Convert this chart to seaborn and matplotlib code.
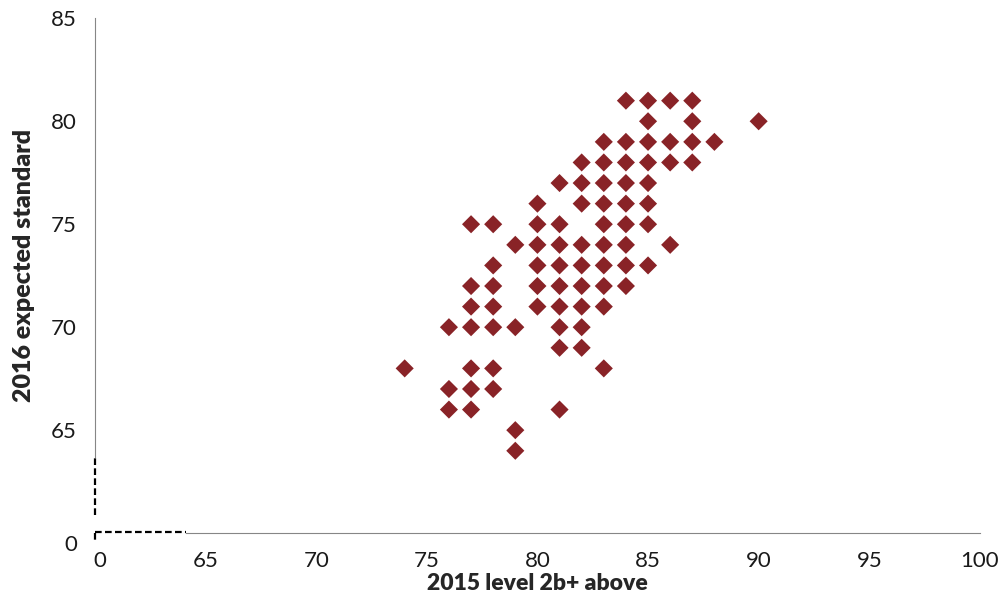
import numpy as np
import pandas as pd
import seaborn as sns
import matplotlib
matplotlib.use("Agg")
import matplotlib.pyplot as plt
import matplotlib.transforms as mtransforms

# data: one list of x values per y row
rows = {
    81: [84, 85, 86, 87],
    80: [85, 87, 90],
    79: [83, 84, 85, 86, 87, 88],
    78: [82, 83, 84, 85, 86, 87],
    77: [81, 82, 83, 84, 85],
    76: [80, 82, 83, 84, 85],
    75: [77, 78, 80, 81, 83, 84, 85],
    74: [79, 80, 81, 82, 83, 84, 86],
    73: [78, 80, 81, 82, 83, 84, 85],
    72: [77, 78, 80, 81, 82, 83, 84],
    71: [77, 78, 80, 81, 82, 83],
    70: [76, 77, 78, 79, 81, 82],
    69: [81, 82],
    68: [74, 77, 78, 83],
    67: [76, 77, 78],
    66: [76, 77, 81],
    65: [79],
    64: [79],
}
x_ticks = [60, 65, 70, 75, 80, 85, 90, 95, 100]
x_tick_labels = ["0", "65", "70", "75", "80", "85", "90", "95", "100"]
y_ticks = [60, 65, 70, 75, 80, 85]
y_tick_labels = ["0", "65", "70", "75", "80", "85"]

level_2015 = [x for y, xs in rows.items() for x in xs]
expected_2016 = [y for y, xs in rows.items() for x in xs]
df = pd.DataFrame({"level_2015": level_2015, "expected_2016": expected_2016})

sns.set_style("white")
plt.rcParams["font.family"] = ["Lato", "DejaVu Sans"]

fig = plt.figure(figsize=(10.05, 6.1), dpi=100)
ax = fig.add_axes([0.0945, 0.126, 0.8805, 0.844])

sns.scatterplot(data=df, x="level_2015", y="expected_2016", marker="D",
                s=85, color="#892327", edgecolor="none", ax=ax, zorder=3)

ax.set_xlim(60, 100)
ax.set_ylim(60, 85)
ax.set_xticks(x_ticks)
ax.set_xticklabels(x_tick_labels, fontsize=16)
ax.set_yticks(y_ticks)
ax.set_yticklabels(y_tick_labels, fontsize=16)

gray = "#868686"
for side in ["top", "right"]:
    ax.spines[side].set_visible(False)
ax.spines["left"].set_color(gray)
ax.spines["bottom"].set_color(gray)
ax.spines["left"].set_bounds(63.7, 85)
ax.spines["bottom"].set_bounds(64.1, 100)
ax.tick_params(axis="both", direction="out", length=7, width=1, color=gray,
               labelcolor="#1a1a1a", pad=6)

# hide tick marks at the broken origin
ax.xaxis.get_major_ticks()[0].tick1line.set_visible(False)
ax.yaxis.get_major_ticks()[0].tick1line.set_visible(False)
# nudge the "0" labels like the original
offx = mtransforms.ScaledTranslation(5 / 100, 0, fig.dpi_scale_trans)
offy = mtransforms.ScaledTranslation(0, -10 / 100, fig.dpi_scale_trans)
lx = ax.get_xticklabels()[0]
lx.set_transform(lx.get_transform() + offx)
ly = ax.get_yticklabels()[0]
ly.set_transform(ly.get_transform() + offy)

# dashed axis-break marks
dash = dict(color="black", lw=1.6, linestyle=(0, (3, 1.5)), clip_on=False, zorder=4)
ax.plot([60, 60], [60.9, 63.7], **dash)
ax.plot([60, 64.1], [60.05, 60.05], **dash)
ax.plot([60, 60], [60, 59.55], **dash)

ax.set_xlabel("2015 level 2b+ above", fontsize=16.5, fontweight="heavy", labelpad=1)
ax.set_ylabel("2016 expected standard", fontsize=18, fontweight="heavy")
ax.yaxis.set_label_coords(-0.068, 0.52)

fig.savefig("out.png", dpi=100)
